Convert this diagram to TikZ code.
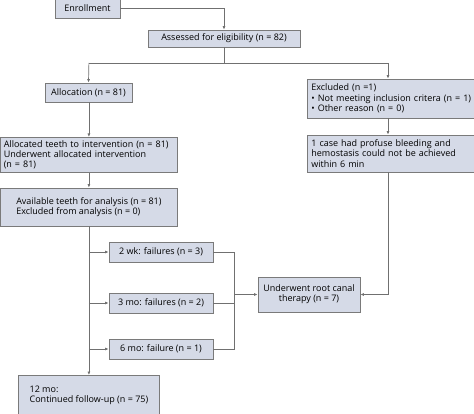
\documentclass[tikz,border=0pt]{standalone}
\usepackage{fontspec}
\setmainfont{Open Sans}
\usetikzlibrary{arrows.meta}
\definecolor{boxfill}{HTML}{D5DAE7}
\definecolor{boxline}{HTML}{7A7A7A}
\definecolor{linkgray}{HTML}{707070}
\begin{document}
\begin{tikzpicture}[
	x=1pt, y=-1pt,
	font=\fontsize{9}{10.3}\selectfont,
	box/.style={
		draw=boxline,
		fill=boxfill,
		line width=0.8pt,
		inner xsep=3pt,
		inner ysep=2pt,
	},
	link/.style={draw=linkgray, line width=0.7pt},
	arr/.style={link, -{Latex[length=3.5pt,width=3pt]}},
]
\useasboundingbox (0,0) rectangle (474,414);

\node[box, minimum width=65pt, minimum height=20pt] (enroll) at (87.5,8) {Enrollment};
\node[box, minimum width=152pt, minimum height=17pt] (assess) at (224,38.5) {Assessed for eligibility (n = 82)};
\node[box, minimum width=87pt, minimum height=19pt] (alloc) at (88.5,92.5) {Allocation (n = 81)};
\node[box, align=left, anchor=west, inner xsep=4pt, text width=160pt, minimum height=39pt] (excl) at (307,98.5) {Excluded (n =1)\\ • Not meeting inclusion critera (n = 1)\\ • Other reason (n = 0)};
\node[box, align=left, anchor=west, inner xsep=4pt, text width=160pt, minimum height=37pt] (case) at (307,153.5) {1 case had profuse bleeding and\\ hemostasis could not be achieved\\ within 6 min};
\node[box, align=left, anchor=north west, text width=171pt, minimum height=35pt] (teeth) at (0.4,137) {Allocated teeth to intervention (n = 81)\\ Underwent allocated intervention\\ (n = 81)};
\node[box, align=left, minimum width=177pt, minimum height=38pt] (avail) at (88.9,207) {Available teeth for analysis (n = 81)\\ Excluded from analysis (n = 0)};
\node[box, minimum width=104pt, minimum height=20pt] (wk2) at (161,252) {2 wk: failures (n = 3)};
\node[box, minimum width=104pt, minimum height=20pt] (mo3) at (161,303) {3 mo: failures (n = 2)};
\node[box, minimum width=104pt, minimum height=20pt] (mo6) at (161,349) {6 mo: failure (n = 1)};
\node[box, align=center, minimum width=102pt, minimum height=35pt] (rct) at (309,294.5) {Underwent root canal\\ therapy (n = 7)};
\node[box, align=left, anchor=north, minimum width=141pt, minimum height=40pt] (mo12) at (88.9,375) {12 mo:\\ Continued follow-up (n = 75)};

\coordinate (split) at (224,63);
\coordinate (lft) at (88.9,63);
\coordinate (rgt) at (388,63);
\coordinate (join) at (234,294.5);
\coordinate (rjoin) at (388,294.5);

\draw[arr] (enroll.east) -| (assess.north);
\draw[link] (assess.south) -- (split);
\draw[link] (lft) -- (rgt);
\draw[arr] (lft) -- (alloc.south |- alloc.north);
\draw[arr] (rgt) -- (rgt |- excl.north);
\draw[arr] (lft |- alloc.south) -- (lft |- teeth.north);
\draw[arr] (lft |- teeth.south) -- (lft |- avail.north);
\draw[arr] (rgt |- excl.south) -- (rgt |- case.north);
\draw[arr] (avail.south) -- (mo12.north);
\draw[arr] (avail.south |- wk2.west) -- (wk2.west);
\draw[arr] (avail.south |- mo3.west) -- (mo3.west);
\draw[arr] (avail.south |- mo6.west) -- (mo6.west);
\draw[link] (wk2.east) -- (wk2.east -| join) -- (mo6.east -| join) -- (mo6.east);
\draw[link] (mo3.east) -- (mo3.east -| join);
\draw[arr] (join) -- (rct.west);
\draw[arr] (rgt |- case.south) -- (rjoin) -- (rct.east);

\end{tikzpicture}
\end{document}
